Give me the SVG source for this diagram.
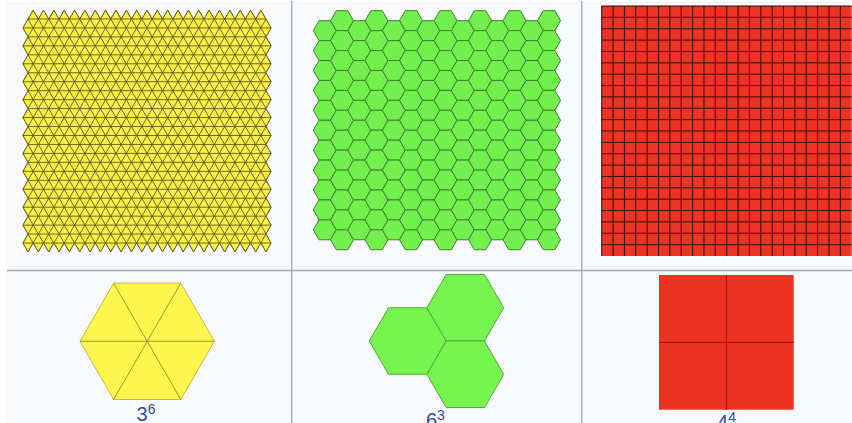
<svg xmlns="http://www.w3.org/2000/svg" width="852" height="423" viewBox="0 0 852 423">
<style>
.cellbg{fill:#f8f9fa}
.sep{stroke:#a2a9b1;stroke-width:1.3;fill:none}
.tri{fill:#f9f14a}
.triln{fill:none;stroke:#5a5012;stroke-width:0.85}
.hex{fill:#73f04e;stroke:#3f7f30;stroke-width:1}
.sq{fill:#ec3324}
.sqln{fill:none;stroke:#3a0a06;stroke-width:1}
.bigtri{fill:#fdf64c;stroke:#c9b94a;stroke-width:1}
.spoke{fill:none;stroke:#8c7d2a;stroke-width:0.8}
.bighex{fill:#76f44f;stroke:#55a83e;stroke-width:1}
.bigsq{fill:#ea3323}
.bigsqln{fill:none;stroke:#a3140f;stroke-width:1.2}
.lbl{font-family:"Liberation Sans",Arial,sans-serif;font-size:20px;fill:#2e4f9c}
</style>
<defs>
<path id="triOutline" d="M27.975 18.963l5.175-8.963 5.175 8.963 5.175-8.963 5.175 8.963 5.175-8.963 5.175 8.963 5.175-8.963 5.175 8.963 5.175-8.963 5.175 8.963 
5.175-8.963 5.175 8.963 5.175-8.963 5.175 8.963 5.175-8.963 5.175 8.963 5.175-8.963 5.175 8.963 5.175-8.963 5.175 8.963 
5.175-8.963 5.175 8.963 5.175-8.963 5.175 8.963 5.175-8.963 5.175 8.963 5.175-8.963 5.175 8.963 5.175-8.963 5.175 8.963 
5.175-8.963 5.175 8.963 5.175-8.963 5.175 8.963 5.175-8.963 5.175 8.963 5.175-8.963 5.175 8.963 5.175-8.963 5.175 8.963 
5.175-8.963 5.175 8.963 5.175-8.963 5.175 8.963 5.175-8.963 5.175 8.963 
5.175 8.963-5.175 8.963 5.175 8.963-5.175 8.963 5.175 8.963-5.175 8.963 5.175 8.963-5.175 8.963 
5.175 8.963-5.175 8.963 5.175 8.963-5.175 8.963 5.175 8.963-5.175 8.963 5.175 8.963-5.175 8.963 
5.175 8.963-5.175 8.963 5.175 8.963-5.175 8.963 5.175 8.963-5.175 8.963 5.175 8.963-5.175 8.963 
5.175 8.963 
-5.175 8.963-5.175-8.963-5.175 8.963-5.175-8.963-5.175 8.963-5.175-8.963-5.175 8.963-5.175-8.963 
-5.175 8.963-5.175-8.963-5.175 8.963-5.175-8.963-5.175 8.963-5.175-8.963-5.175 8.963-5.175-8.963 
-5.175 8.963-5.175-8.963-5.175 8.963-5.175-8.963-5.175 8.963-5.175-8.963-5.175 8.963-5.175-8.963 
-5.175 8.963-5.175-8.963-5.175 8.963-5.175-8.963-5.175 8.963-5.175-8.963-5.175 8.963-5.175-8.963 
-5.175 8.963-5.175-8.963-5.175 8.963-5.175-8.963-5.175 8.963-5.175-8.963-5.175 8.963-5.175-8.963 
-5.175 8.963-5.175-8.963-5.175 8.963-5.175-8.963-5.175 8.963-5.175-8.963-5.175 8.963-5.175-8.963 
5.175-8.963-5.175-8.963 5.175-8.963-5.175-8.963 5.175-8.963-5.175-8.963 5.175-8.963-5.175-8.963 
5.175-8.963-5.175-8.963 5.175-8.963-5.175-8.963 5.175-8.963-5.175-8.963 5.175-8.963-5.175-8.963 
5.175-8.963-5.175-8.963 5.175-8.963-5.175-8.963 5.175-8.963-5.175-8.963 5.175-8.963-5.175-8.963 
5.175-8.963z"/>
<clipPath id="triClip"><use href="#triOutline"/></clipPath>
<path id="hx" d="M-11.5 0L-5.75-9.96H5.75L11.5 0 5.75 9.96H-5.75Z"/>
<g id="colO">
<use href="#hx" y="0"/><use href="#hx" y="19.92"/><use href="#hx" y="39.84"/><use href="#hx" y="59.76"/>
<use href="#hx" y="79.68"/><use href="#hx" y="99.6"/><use href="#hx" y="119.52"/><use href="#hx" y="139.44"/>
<use href="#hx" y="159.36"/><use href="#hx" y="179.28"/><use href="#hx" y="199.2"/><use href="#hx" y="219.12"/>
</g>
<g id="colE">
<use href="#hx" y="0"/><use href="#hx" y="19.92"/><use href="#hx" y="39.84"/><use href="#hx" y="59.76"/>
<use href="#hx" y="79.68"/><use href="#hx" y="99.6"/><use href="#hx" y="119.52"/><use href="#hx" y="139.44"/>
<use href="#hx" y="159.36"/><use href="#hx" y="179.28"/><use href="#hx" y="199.2"/>
</g>
<path id="hxBig" d="M-38.4 0L-19.2-33.25H19.2L38.4 0 19.2 33.25H-19.2Z"/>
</defs>

<rect width="852" height="423" fill="#ffffff"/>
<rect class="cellbg" x="7" y="1" width="845" height="422"/>

<g id="separators">
<path class="sep" d="M7 270.5H852M291.8 1V423M581.8 1V423"/>
</g>

<g id="triangular-tiling">
<use href="#triOutline" class="tri"/>
<g clip-path="url(#triClip)">
<path class="triln" d="M22.8 18.963h248.4m-248.4 8.963h248.4m-248.4 8.963h248.4m-248.4 8.963h248.4m-248.4 8.963h248.4
m-248.4 8.963h248.4m-248.4 8.963h248.4m-248.4 8.963h248.4m-248.4 8.963h248.4m-248.4 8.963h248.4
m-248.4 8.963h248.4m-248.4 8.963h248.4m-248.4 8.963h248.4m-248.4 8.963h248.4m-248.4 8.963h248.4
m-248.4 8.963h248.4m-248.4 8.963h248.4m-248.4 8.963h248.4m-248.4 8.963h248.4m-248.4 8.963h248.4
m-248.4 8.963h248.4m-248.4 8.963h248.4m-248.4 8.963h248.4m-248.4 8.963h248.4m-248.4 8.963h248.4
m-248.4 8.963h248.4"/>
<path class="triln" d="M-111.75 10l139.725 242
m-129.375-242l139.725 242m-129.375-242l139.725 242m-129.375-242l139.725 242m-129.375-242l139.725 242m-129.375-242l139.725 242
m-129.375-242l139.725 242m-129.375-242l139.725 242m-129.375-242l139.725 242m-129.375-242l139.725 242m-129.375-242l139.725 242
m-129.375-242l139.725 242m-129.375-242l139.725 242m-129.375-242l139.725 242m-129.375-242l139.725 242m-129.375-242l139.725 242
m-129.375-242l139.725 242m-129.375-242l139.725 242m-129.375-242l139.725 242m-129.375-242l139.725 242m-129.375-242l139.725 242
m-129.375-242l139.725 242m-129.375-242l139.725 242m-129.375-242l139.725 242m-129.375-242l139.725 242m-129.375-242l139.725 242
m-129.375-242l139.725 242m-129.375-242l139.725 242m-129.375-242l139.725 242m-129.375-242l139.725 242m-129.375-242l139.725 242
m-129.375-242l139.725 242m-129.375-242l139.725 242m-129.375-242l139.725 242m-129.375-242l139.725 242m-129.375-242l139.725 242
m-129.375-242l139.725 242m-129.375-242l139.725 242"/>
<path class="triln" d="M22.8 10l-139.725 242
m150.075-242l-139.725 242m150.075-242l-139.725 242m150.075-242l-139.725 242m150.075-242l-139.725 242m150.075-242l-139.725 242
m150.075-242l-139.725 242m150.075-242l-139.725 242m150.075-242l-139.725 242m150.075-242l-139.725 242m150.075-242l-139.725 242
m150.075-242l-139.725 242m150.075-242l-139.725 242m150.075-242l-139.725 242m150.075-242l-139.725 242m150.075-242l-139.725 242
m150.075-242l-139.725 242m150.075-242l-139.725 242m150.075-242l-139.725 242m150.075-242l-139.725 242m150.075-242l-139.725 242
m150.075-242l-139.725 242m150.075-242l-139.725 242m150.075-242l-139.725 242m150.075-242l-139.725 242m150.075-242l-139.725 242
m150.075-242l-139.725 242m150.075-242l-139.725 242m150.075-242l-139.725 242m150.075-242l-139.725 242m150.075-242l-139.725 242
m150.075-242l-139.725 242m150.075-242l-139.725 242m150.075-242l-139.725 242m150.075-242l-139.725 242m150.075-242l-139.725 242
m150.075-242l-139.725 242m150.075-242l-139.725 242"/>
</g>
<use href="#triOutline" class="triln"/>
</g>

<g id="hexagonal-tiling" class="hex">
<use href="#colE" x="324.8" y="30.62"/>
<use href="#colO" x="342.05" y="20.66"/>
<use href="#colE" x="359.3" y="30.62"/>
<use href="#colO" x="376.55" y="20.66"/>
<use href="#colE" x="393.8" y="30.62"/>
<use href="#colO" x="411.05" y="20.66"/>
<use href="#colE" x="428.3" y="30.62"/>
<use href="#colO" x="445.55" y="20.66"/>
<use href="#colE" x="462.8" y="30.62"/>
<use href="#colO" x="480.05" y="20.66"/>
<use href="#colE" x="497.3" y="30.62"/>
<use href="#colO" x="514.55" y="20.66"/>
<use href="#colE" x="531.8" y="30.62"/>
<use href="#colO" x="549.05" y="20.66"/>
</g>

<g id="square-tiling">
<rect class="sq" x="601.7" y="6" width="250" height="250"/>
<path class="sqln" d="M601.7 6v250m11.364-250v250m11.364-250v250m11.364-250v250m11.364-250v250m11.364-250v250
m11.364-250v250m11.364-250v250m11.364-250v250m11.364-250v250m11.364-250v250
m11.364-250v250m11.364-250v250m11.364-250v250m11.364-250v250m11.364-250v250
m11.364-250v250m11.364-250v250m11.364-250v250m11.364-250v250m11.364-250v250m11.364-250v250"/>
<path class="sqln" d="M601.7 6h250m-250 11.364h250m-250 11.364h250m-250 11.364h250m-250 11.364h250m-250 11.364h250
m-250 11.364h250m-250 11.364h250m-250 11.364h250m-250 11.364h250m-250 11.364h250
m-250 11.364h250m-250 11.364h250m-250 11.364h250m-250 11.364h250m-250 11.364h250
m-250 11.364h250m-250 11.364h250m-250 11.364h250m-250 11.364h250m-250 11.364h250m-250 11.364h250"/>
</g>

<g id="vertex-3-6">
<polygon class="bigtri" points="80,341.3 113.6,283.1 180.8,283.1 214.4,341.3 180.8,399.5 113.6,399.5"/>
<path class="spoke" d="M80 341.3H214.4M113.6 283.1L180.8 399.5M180.8 283.1L113.6 399.5"/>
<text class="lbl" x="136.5" y="420.8">3<tspan font-size="14" dy="-7">6</tspan></text>
</g>

<g id="vertex-6-3">
<use href="#hxBig" class="bighex" x="407.7" y="341"/>
<use href="#hxBig" class="bighex" x="465.3" y="307.75"/>
<use href="#hxBig" class="bighex" x="465.3" y="374.25"/>
<text class="lbl" x="425.9" y="427">6<tspan font-size="14" dy="-7">3</tspan></text>
</g>

<g id="vertex-4-4">
<rect class="bigsq" x="659" y="275" width="134.7" height="134.7"/>
<path class="bigsqln" d="M726.35 275v134.7M659 342.35h134.7"/>
<text class="lbl" x="717" y="428.5">4<tspan font-size="14" dy="-7">4</tspan></text>
</g>
</svg>
